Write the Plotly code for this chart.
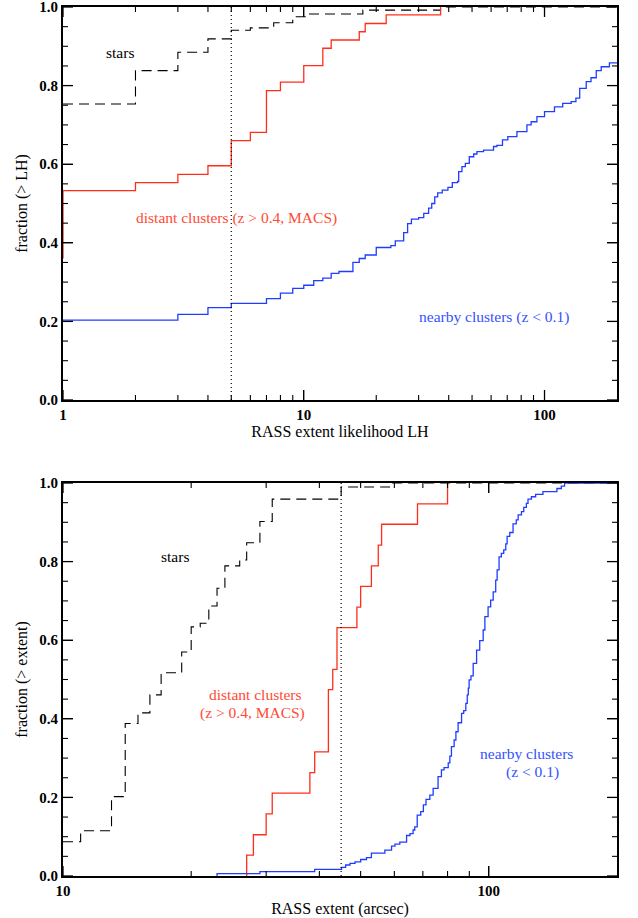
import numpy as np
import plotly.graph_objects as go

# ---------------- data: top panel (RASS extent likelihood LH) ----------------
lh_stars_x = [1, 2, 3, 4, 5, 6, 7.5, 9, 10.5, 17.6, 37, 200]
lh_stars_y = [0.753, 0.838, 0.885, 0.919, 0.941, 0.947, 0.960, 0.975, 0.982, 0.992, 1.0, 1.0]

lh_distant_x = [1, 1, 2, 3, 4, 5, 6, 7, 8, 10, 12, 13, 17, 18, 22, 37]
lh_distant_y = [0.36, 0.533, 0.553, 0.574, 0.596, 0.660, 0.681, 0.787, 0.809, 0.851,
                0.895, 0.916, 0.937, 0.958, 0.980, 1.0]

lh_nearby_x = [1, 3, 4, 5, 7, 8, 9, 10, 11, 12, 13, 14, 16, 17, 18, 20, 23, 24, 26, 27,
               28, 30, 31.5, 33, 34, 35, 36, 37.6, 39.7, 41.4, 43.5, 44, 45.4, 46.9, 48.7,
               50.8, 52.4, 55.8, 61.4, 63.4, 66.9, 70.4, 76.8, 84.5, 88, 93, 100, 110, 119,
               129, 135, 140, 149, 156, 164, 172, 186, 200]
lh_nearby_y = [0.203, 0.218, 0.235, 0.246, 0.258, 0.272, 0.284, 0.292, 0.304, 0.310, 0.322,
               0.327, 0.350, 0.360, 0.369, 0.388, 0.393, 0.405, 0.426, 0.449, 0.460, 0.464,
               0.475, 0.488, 0.500, 0.517, 0.527, 0.534, 0.541, 0.553, 0.556, 0.581, 0.594,
               0.602, 0.619, 0.626, 0.632, 0.636, 0.645, 0.648, 0.662, 0.670, 0.683, 0.700,
               0.708, 0.721, 0.734, 0.746, 0.755, 0.759, 0.768, 0.793, 0.810, 0.820, 0.838,
               0.848, 0.858, 0.858]

lh_cut = 5

# ---------------- data: bottom panel (RASS extent, arcsec) ----------------
ext_stars_x = [10, 11, 13, 14, 15, 16, 17, 19, 20, 21, 22, 23, 24, 26, 27, 29, 31, 45, 59, 200]
ext_stars_y = [0.087, 0.115, 0.202, 0.388, 0.415, 0.461, 0.517, 0.570, 0.634, 0.643, 0.687,
               0.732, 0.789, 0.804, 0.848, 0.902, 0.959, 0.990, 1.0, 1.0]

ext_distant_x = [27, 27, 28, 30, 31, 38, 39, 42, 43, 44, 49, 50, 53, 55, 56, 68, 80]
ext_distant_y = [0.0, 0.053, 0.105, 0.158, 0.211, 0.263, 0.316, 0.474, 0.526, 0.632, 0.684,
                 0.737, 0.789, 0.842, 0.895, 0.947, 1.0]

ext_nearby_x = [23, 23, 29, 39, 45.1, 46.1, 47.2, 48.5, 50, 51.6, 53, 57, 59.1, 60.2, 61.8,
                64.1, 65.3, 66.4, 67, 67.9, 69.2, 70.2, 71.2, 72.7, 74, 76, 77.4, 78.5, 80.3,
                81, 81.7, 82.9, 83.7, 84.7, 86.3, 87.3, 88.3, 89, 89.5, 89.9, 90.8, 91.9, 93.6,
                95.2, 97, 97.9, 99.6, 101, 102.4, 103.8, 104.6, 105.7, 107, 108.4, 109.6,
                110.4, 112, 114, 116, 117.2, 119.3, 120.8, 122.5, 123.6, 125.9, 128.8, 134,
                144.5, 148, 150.6, 200]
ext_nearby_y = [0.0, 0.006, 0.011, 0.017, 0.022, 0.028, 0.032, 0.036, 0.042, 0.047, 0.058,
                0.066, 0.076, 0.081, 0.086, 0.103, 0.108, 0.117, 0.125, 0.155, 0.164, 0.181,
                0.195, 0.206, 0.223, 0.253, 0.270, 0.276, 0.288, 0.305, 0.329, 0.346, 0.367,
                0.390, 0.414, 0.421, 0.439, 0.461, 0.478, 0.499, 0.509, 0.541, 0.575, 0.599,
                0.626, 0.660, 0.685, 0.702, 0.723, 0.753, 0.779, 0.812, 0.821, 0.830, 0.845,
                0.864, 0.874, 0.896, 0.906, 0.919, 0.927, 0.938, 0.948, 0.959, 0.965, 0.971,
                0.978, 0.986, 0.992, 1.0, 1.0]

ext_cut = 45

# tick positions
lh_major = [1, 10, 100]
lh_minor = [2, 3, 4, 5, 6, 7, 8, 9, 20, 30, 40, 50, 60, 70, 80, 90]
ext_major = [10, 100]
ext_minor = [20, 30, 40, 50, 60, 70, 80, 90]
frac_major = [0.0, 0.2, 0.4, 0.6, 0.8, 1.0]
frac_minor = [0.05, 0.1, 0.15, 0.25, 0.3, 0.35, 0.45, 0.5, 0.55, 0.65, 0.7, 0.75,
              0.85, 0.9, 0.95]

# ---------------- styling ----------------
RED = "#ff2e1a"
BLUE = "#1f3dff"
RED_TXT = "#ff4a35"
BLUE_TXT = "#3552ff"
FONT = "Liberation Serif, Times New Roman, serif"

W, H = 638, 918
xdom = [63 / W, 617 / W]
top_dom = [(H - 400) / H, (H - 7) / H]
bot_dom = [(H - 876) / H, (H - 483) / H]
lh_range = [0, np.log10(200)]
ext_range = [1, np.log10(200)]
MAJOR_LEN, MINOR_LEN = 10, 5  # tick lengths in pixels

fig = go.Figure()


def step(x, y, color, xa, ya, dash=None, width=1.3):
    fig.add_trace(go.Scatter(x=x, y=y, mode="lines", line_shape="hv",
                             line=dict(color=color, width=width, dash=dash),
                             xaxis=xa, yaxis=ya, showlegend=False, hoverinfo="skip"))


# top panel
step(lh_stars_x, lh_stars_y, "black", "x", "y", dash="10px,6px", width=1.1)
step(lh_distant_x, lh_distant_y, RED, "x", "y")
step(lh_nearby_x, lh_nearby_y, BLUE, "x", "y")
step([lh_cut, lh_cut], [0, 1], "black", "x", "y", dash="1px,3px", width=1.2)

# bottom panel
step(ext_stars_x, ext_stars_y, "black", "x2", "y2", dash="10px,6px", width=1.1)
step(ext_distant_x, ext_distant_y, RED, "x2", "y2")
step(ext_nearby_x, ext_nearby_y, BLUE, "x2", "y2")
step([ext_cut, ext_cut], [0, 1], "black", "x2", "y2", dash="1px,3px", width=1.2)


# IDL-style inward ticks on all four sides, built from the tick-value lists
def add_ticks(xa, ya, xr, ydom, xvals, yvals, tlen, tw):
    plot_w = (xdom[1] - xdom[0]) * W
    plot_h = (ydom[1] - ydom[0]) * H
    dy = tlen / plot_h                       # y range is [0, 1]
    dlog = tlen * (xr[1] - xr[0]) / plot_w    # log-decades per tick length
    x0, x1 = 10 ** xr[0], 10 ** xr[1]
    xs, ys = [], []
    for v in xvals:
        xs += [v, v, None, v, v, None]
        ys += [0, dy, None, 1, 1 - dy, None]
    for v in yvals:
        xs += [x0, x0 * 10 ** dlog, None, x1, x1 / 10 ** dlog, None]
        ys += [v, v, None, v, v, None]
    fig.add_trace(go.Scatter(x=xs, y=ys, mode="lines",
                             line=dict(color="black", width=tw),
                             xaxis=xa, yaxis=ya, showlegend=False, hoverinfo="skip"))


add_ticks("x", "y", lh_range, top_dom, lh_major, frac_major, MAJOR_LEN, 1.3)
add_ticks("x", "y", lh_range, top_dom, lh_minor, frac_minor, MINOR_LEN, 1.1)
add_ticks("x2", "y2", ext_range, bot_dom, ext_major, frac_major, MAJOR_LEN, 1.3)
add_ticks("x2", "y2", ext_range, bot_dom, ext_minor, frac_minor, MINOR_LEN, 1.1)

axis_common = dict(
    showline=True, linecolor="black", linewidth=2, mirror="ticks",
    ticks="inside", ticklen=10, tickwidth=1.3, tickcolor="black",
    showgrid=False, zeroline=False, automargin=False,
    ticklabeloverflow="allow",
    tickfont=dict(family=FONT, size=15, color="black", weight="bold"),
    title_font=dict(family=FONT, size=16, color="black"),
    tickmode="array",
)

fig.update_layout(
    width=W, height=H,
    margin=dict(l=0, r=0, t=0, b=0),
    paper_bgcolor="white", plot_bgcolor="rgba(0,0,0,0)",
    template="none",
    showlegend=False,
    xaxis=dict(axis_common, type="log", range=lh_range, domain=xdom,
               anchor="y", tickvals=lh_major, ticktext=[str(v) for v in lh_major],
               title=dict(text="RASS extent likelihood LH", standoff=1)),
    yaxis=dict(axis_common, range=[0, 1], domain=top_dom, anchor="x",
               tickvals=frac_major, ticktext=[f"{v:.1f}" for v in frac_major],
               title=dict(text="fraction (> LH)", standoff=8)),
    xaxis2=dict(axis_common, type="log", range=ext_range, domain=xdom,
                anchor="y2", tickvals=ext_major, ticktext=[str(v) for v in ext_major],
                title=dict(text="RASS extent (arcsec)", standoff=5)),
    yaxis2=dict(axis_common, range=[0, 1], domain=bot_dom, anchor="x2",
                tickvals=frac_major, ticktext=[f"{v:.1f}" for v in frac_major],
                title=dict(text="fraction (> extent)", standoff=8)),
)


def label(text, lx, ly, color, xr, yr):
    fig.add_annotation(text=text, x=lx, y=ly, xref=xr, yref=yr, showarrow=False,
                       xanchor="center", yanchor="middle",
                       font=dict(family=FONT, size=15.5, color=color))


label("stars", 0.2365, 0.883, "black", "x", "y")
label("distant clusters (z > 0.4, MACS)", 0.722, 0.463, RED_TXT, "x", "y")
label("nearby clusters (z < 0.1)", 1.790, 0.210, BLUE_TXT, "x", "y")

label("stars", 1.264, 0.8125, "black", "x2", "y2")
label("distant clusters", 1.453, 0.462, RED_TXT, "x2", "y2")
label("(z > 0.4, MACS)", 1.446, 0.414, RED_TXT, "x2", "y2")
label("nearby clusters", 2.088, 0.312, BLUE_TXT, "x2", "y2")
label("(z < 0.1)", 2.103, 0.265, BLUE_TXT, "x2", "y2")

fig.write_html("out.html")
